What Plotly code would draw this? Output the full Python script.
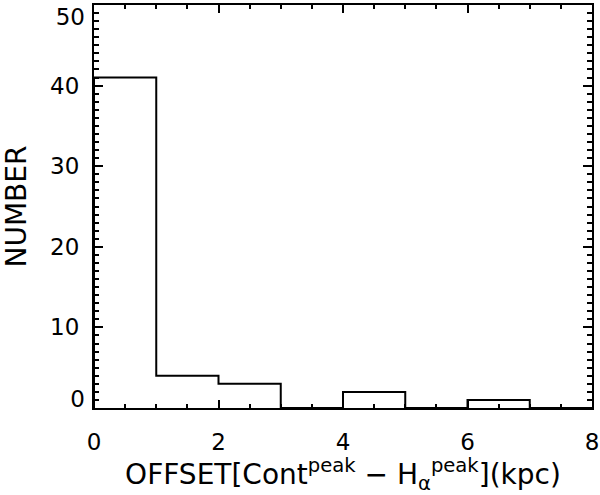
import plotly.graph_objects as go

# Histogram bins (kpc) and counts
bin_edges = [0, 1, 2, 3, 4, 5, 6, 7, 8]
counts = [41, 4, 3, 0, 2, 0, 1, 0]

x_tickvals = [0, 2, 4, 6, 8]
y_tickvals_mid = [10, 20, 30, 40]
y_tick_top = [50]
y_tick_bottom = [0]

# step outline: left edge up from 0, then each bin top
step_x = [bin_edges[0]] + bin_edges
step_y = [0] + counts + [0]

trace_hist = go.Scatter(
    x=step_x,
    y=step_y,
    mode='lines',
    line=dict(color='black', width=2, shape='hv'),
    showlegend=False,
    hoverinfo='skip'
)

fig = go.Figure(data=[trace_hist])

fnt = dict(family='DejaVu Sans', size=23, color='black')

fig.update_layout(
    width=600, height=495,
    margin=dict(l=94, r=8, t=5, b=87, autoexpand=False),
    paper_bgcolor='white',
    plot_bgcolor='white',
    font=fnt,
    xaxis_title=dict(
        text='OFFSET[Cont<sup>peak</sup> \u2212 H<sub>\u03b1</sub><sup>peak</sup>](kpc)',
        standoff=4
    ),
    yaxis_title=dict(text='NUMBER', standoff=22),
    # extra overlaid axes only to nudge the end labels inside the frame
    yaxis2=dict(overlaying='y', side='left', range=[0, 50], tickvals=y_tick_top,
                showline=False, showgrid=False, zeroline=False, ticks='',
                ticklabelshift=12, ticklabelstandoff=8, automargin=False,
                tickfont=fnt, ticklabeloverflow='allow'),
    yaxis3=dict(overlaying='y', side='left', range=[0, 50], tickvals=y_tick_bottom,
                showline=False, showgrid=False, zeroline=False, ticks='',
                ticklabelshift=-9, ticklabelstandoff=8, automargin=False,
                tickfont=fnt, ticklabeloverflow='allow'),
)

fig.update_xaxes(
    range=[0, 8], tickvals=x_tickvals,
    showgrid=False, zeroline=False, automargin=False,
    showline=True, linecolor='black', linewidth=2, mirror='ticks',
    ticks='inside', ticklen=8, tickwidth=2, tickcolor='black',
    minor=dict(dtick=0.5, ticks='inside', ticklen=4, tickwidth=2, tickcolor='black', showgrid=False),
    ticklabelstandoff=12, ticklabeloverflow='allow'
)

fig.layout.yaxis.update(
    range=[0, 50], tickvals=y_tickvals_mid,
    showgrid=False, zeroline=False, automargin=False,
    showline=True, linecolor='black', linewidth=2, mirror='ticks',
    ticks='inside', ticklen=9, tickwidth=2, tickcolor='black',
    minor=dict(dtick=1, ticks='inside', ticklen=5, tickwidth=2, tickcolor='black', showgrid=False),
    ticklabelstandoff=8
)

# invisible traces so the extra axes are drawn
for ax in ['y2', 'y3']:
    fig.add_trace(go.Scatter(x=[None], y=[None], yaxis=ax, showlegend=False, hoverinfo='skip'))

fig.write_html("out.html", config={'displayModeBar': False},
               post_script="document.body.style.margin='0';")
